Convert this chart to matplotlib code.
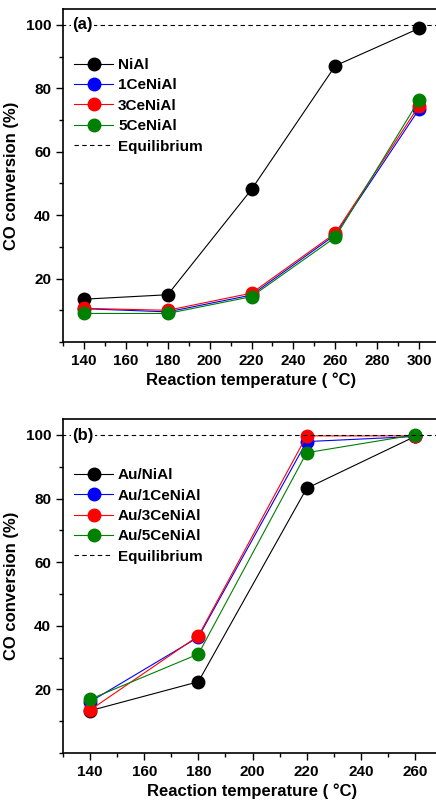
import matplotlib
matplotlib.use('Agg')
import matplotlib.pyplot as plt
from matplotlib.ticker import MultipleLocator

plt.rcParams['font.family'] = ['Liberation Sans', 'DejaVu Sans']
plt.rcParams['font.weight'] = 'bold'

# panel (a)
temps_a = [140, 180, 220, 260, 300]
nial = [13.5, 14.9, 48.1, 87.1, 98.9]
ce1_nial = [10.5, 9.5, 14.8, 33.8, 73.4]
ce3_nial = [10.6, 10.0, 15.4, 34.3, 74.5]
ce5_nial = [9.0, 9.0, 14.3, 33.0, 76.3]
labels_a = ['NiAl', '1CeNiAl', '3CeNiAl', '5CeNiAl']

# panel (b)
temps_b = [140, 180, 220, 260]
au_nial = [13.3, 22.4, 83.2, 99.5]
au_ce1 = [16.1, 36.4, 97.9, 99.5]
au_ce3 = [13.5, 36.8, 99.7, 99.7]
au_ce5 = [16.9, 31.1, 94.4, 100.0]
labels_b = ['Au/NiAl', 'Au/1CeNiAl', 'Au/3CeNiAl', 'Au/5CeNiAl']

equilibrium = 100
colors = ['black', 'blue', 'red', 'green']


def draw_panel(ax, temps, series, labels, tag, xlim):
    for ys, lab, c in zip(series, labels, colors):
        ax.plot(temps, ys, color=c, lw=0.8, marker='o', ms=9,
                markerfacecolor=c, markeredgecolor=c, label=lab)
    ax.plot([xlim[0] - 50, xlim[1] + 50], [equilibrium, equilibrium],
            color='black', lw=0.8, ls=(0, (4, 3)), label='Equilibrium')
    ax.set_xlim(*xlim)
    ax.set_ylim(0, 105)
    ax.set_xticks(list(range(140, int(xlim[1]) + 1, 20)))
    ax.xaxis.set_minor_locator(MultipleLocator(10))
    ax.set_yticks([20, 40, 60, 80, 100])
    ax.yaxis.set_minor_locator(MultipleLocator(10))
    ax.tick_params(which='major', direction='out', length=5, width=1,
                   labelsize=11)
    ax.tick_params(which='minor', direction='out', length=3, width=1)
    for lbl in ax.get_xticklabels() + ax.get_yticklabels():
        lbl.set_fontweight('bold')
    for sp in ax.spines.values():
        sp.set_linewidth(1.2)
    ax.set_xlabel('Reaction temperature ( °C)', fontsize=12,
                  fontweight='bold', labelpad=3)
    ax.set_ylabel('CO conversion (%)', fontsize=12, fontweight='bold',
                  labelpad=5)
    ax.text(0.025, 0.952, tag, transform=ax.transAxes, fontsize=12,
            fontweight='bold', va='center', ha='left',
            bbox=dict(facecolor='white', edgecolor='none', pad=1))
    ax.legend(loc='upper left', bbox_to_anchor=(0.0, 0.885), frameon=False,
              handlelength=2.6, handletextpad=0.3,
              labelspacing=0.42, borderaxespad=0.3,
              prop={'weight': 'bold', 'size': 11})


fig = plt.figure(figsize=(4.36, 8.0), dpi=100)
ax1 = fig.add_axes([63 / 436, 1 - 342 / 800, 377 / 436, 333 / 800])
ax2 = fig.add_axes([63 / 436, 1 - 753 / 800, 379 / 436, 334 / 800])

draw_panel(ax1, temps_a, [nial, ce1_nial, ce3_nial, ce5_nial], labels_a,
           '(a)', (130, 310))
draw_panel(ax2, temps_b, [au_nial, au_ce1, au_ce3, au_ce5], labels_b,
           '(b)', (130, 270))

fig.savefig('out.png', dpi=100)
